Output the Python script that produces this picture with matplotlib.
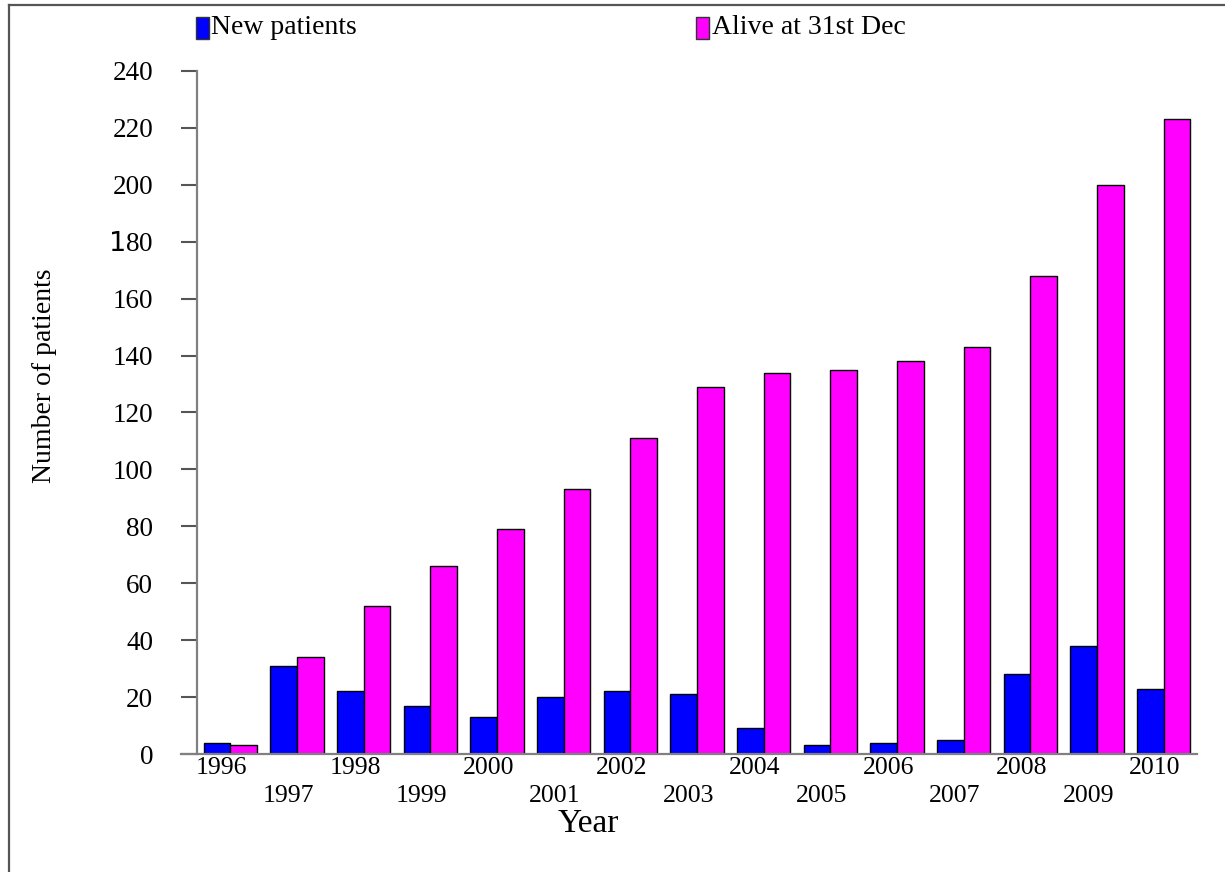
import numpy as np
import matplotlib
matplotlib.use("Agg")
import matplotlib.pyplot as plt
from matplotlib.lines import Line2D
from matplotlib.patches import Rectangle

# Data
years = [str(y) for y in range(1996, 2011)]
new_patients = [4, 31, 22, 17, 13, 20, 22, 21, 9, 3, 4, 5, 28, 38, 23]
alive_31dec = [3, 34, 52, 66, 79, 93, 111, 129, 134, 135, 138, 143, 168, 200, 223]
yticks = list(range(0, 241, 20))

plt.rcParams['font.family'] = ['Liberation Serif', 'DejaVu Serif']
plt.rcParams['mathtext.fontset'] = 'dejavusans'

fig = plt.figure(figsize=(12.25, 8.72), dpi=100)
ax = fig.add_axes([0.1608, 0.1353, 0.8163, 0.7833])

x = np.arange(len(years))
w = 0.4
ax.bar(x - w / 2, new_patients, w, color='#0000ff', edgecolor='black', linewidth=1.0,
       label='New patients')
ax.bar(x + w / 2, alive_31dec, w, color='#ff00ff', edgecolor='black', linewidth=1.0,
       label='Alive at 31st Dec')

ax.set_xlim(-0.5, len(years) - 0.5)
ax.set_ylim(0, 240)

# y axis
ax.set_yticks(yticks)
ylabels = [str(v) for v in yticks]
ylabels[yticks.index(180)] = r'$\mathsf{1}$80'
ax.set_yticklabels(ylabels, fontsize=19.5)
ax.tick_params(axis='y', direction='out', length=11.5, width=1.5, color='#555555', pad=20)

# x axis: staggered year labels, no tick marks
ax.set_xticks(x - 0.13)
ax.set_xticklabels([])
ax.tick_params(axis='x', length=0)
for i, yr in enumerate(years):
    dy = -0.020 if i % 2 == 0 else -0.061
    ax.text(i - 0.13, dy, yr, transform=ax.get_xaxis_transform(), ha='center', va='center',
            fontsize=18.5)

for side in ['top', 'right']:
    ax.spines[side].set_visible(False)
for side in ['left', 'bottom']:
    ax.spines[side].set_color('#808080')
    ax.spines[side].set_linewidth(1.6)
ax.spines['bottom'].set_bounds(-0.74, len(years) - 0.5)

fig.text(0.036, 0.569, 'Number of patients', fontsize=20, rotation=90,
         ha='center', va='center')
fig.text(0.48, 0.055, 'Year', fontsize=24, ha='center', va='center')

# legend drawn as two entries across the top
fig.add_artist(Rectangle((0.160, 0.955), 0.0105, 0.0255, transform=fig.transFigure,
                         facecolor='#0000ff', edgecolor='#333333', linewidth=1))
fig.text(0.1725, 0.969, 'New patients', fontsize=20, va='center')
fig.add_artist(Rectangle((0.568, 0.955), 0.0105, 0.0255, transform=fig.transFigure,
                         facecolor='#ff00ff', edgecolor='#333333', linewidth=1))
fig.text(0.581, 0.969, 'Alive at 31st Dec', fontsize=20, va='center')

# outer frame (top and left edges visible)
fig.add_artist(Line2D([0.0075, 0.0075], [0, 0.994], transform=fig.transFigure,
                      color='#555555', linewidth=1.6))
fig.add_artist(Line2D([0.0075, 1.0], [0.994, 0.994], transform=fig.transFigure,
                      color='#555555', linewidth=1.6))

fig.savefig('out.png', dpi=100)
